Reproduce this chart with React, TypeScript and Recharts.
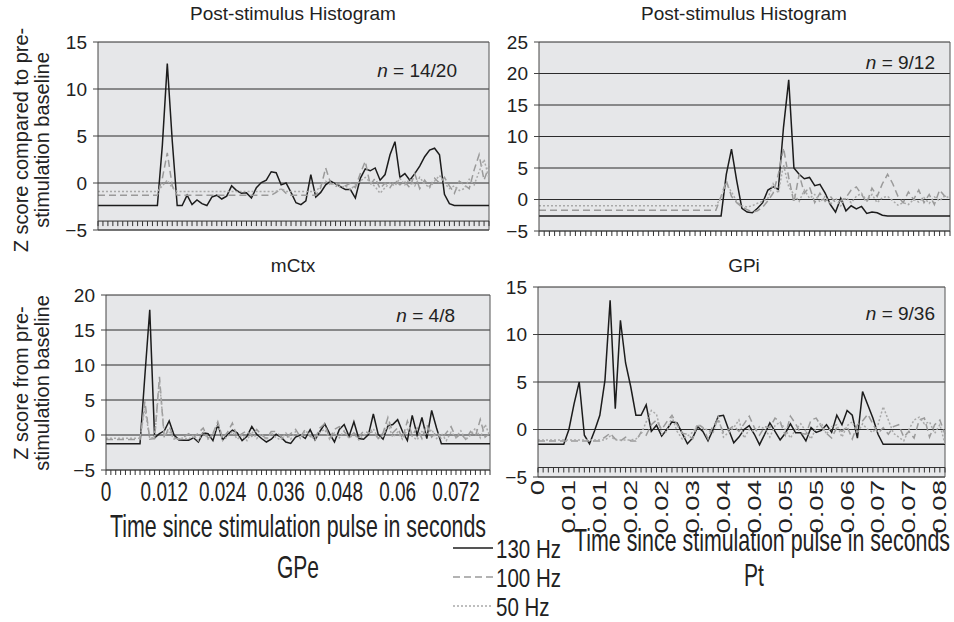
import React from 'react'
import { LineChart, Line, XAxis, YAxis, CartesianGrid, ReferenceLine } from 'recharts'

// time bins of 1 ms, 0 .. 0.079 s
const bins = Array.from({ length: 80 }, (_, i) => +(i * 0.001).toFixed(3))

const seriesNames = ['130 Hz', '100 Hz', '50 Hz']

// mCtx (top left)
const mctx130 = [
  -2.4, -2.4, -2.4, -2.4, -2.4, -2.4, -2.4, -2.4, -2.4, -2.4,
  -2.4, -2.4, -2.4, 4, 12.7, 4.5, -2.4, -2.4, -1.3, -2.3,
  -1.8, -2.2, -2.4, -1.5, -1.3, -1.7, -1.4, -0.3, -0.8, -1.1,
  -1.05, -1.6, -0.5, 0.05, 0.3, 1.2, 1.1, -0.2, 0, -1.0,
  -2.1, -2.3, -1.9, 0.9, -1.5, -1.0, -0.2, 0.2, -0.1, -0.4,
  -0.7, -0.7, -1.6, 0.5, 1.5, 1.3, 1.6, 0.3, 0.9, 3.0,
  4.4, 0.6, 1.0, 0.3, 1.0, 1.8, 2.8, 3.5, 3.7, 3.0,
  -1.2, -2.2, -2.4, -2.4, -2.4, -2.4, -2.4, -2.4, -2.4, -2.4,
]
const mctx100 = [
  -1.3, -1.3, -1.3, -1.3, -1.3, -1.3, -1.3, -1.3, -1.3, -1.3,
  -1.3, -1.3, -1.3, 0.5, 3.2, -0.3, -1.3, -1.3, -1.3, -1.3,
  -1.3, -1.3, -1.3, -1.3, -1.3, -1.3, -1.3, -1.3, -1.3, -1.3,
  -1.3, -1.3, -1.3, -1.3, -1.3, -1.3, -1.0, -0.6, -1.1, -1.3,
  -1.3, -1.3, -1.3, -1.3, -1.3, -0.5, 1.6, 0.0, -0.4, 0.0,
  -0.3, 0.0, -0.5, 1.0, 2.3, -0.2, 0.5, -0.6, 0.0, -0.5,
  0.3, -0.2, 0.1, -0.5, 1.0, -0.6, 0.3, -0.4, 0.5, 0.0,
  0.6, -0.3, -1.1, 0.2, -0.2, -0.6, 1.4, 3.0, 0.3, 1.8,
]
const mctx50 = [
  -0.9, -0.9, -0.9, -0.9, -0.9, -0.9, -0.9, -0.9, -0.9, -0.9,
  -0.9, -0.9, -0.9, -0.3, 0.3, -0.5, -0.9, -0.9, -0.9, -0.9,
  -0.9, -0.9, -0.9, -0.9, -0.9, -0.9, -0.9, -0.9, -0.9, -0.9,
  -0.9, -0.9, -0.9, -0.9, -0.9, -0.9, -0.9, -0.6, -0.9, -0.9,
  -0.9, -0.9, -0.9, -0.9, -0.9, -0.3, 0.2, -0.2, 0.0, -0.5,
  -0.3, -0.7, -0.2, 0.2, 0.6, 0.1, -0.4, -1.1, -0.5, 0.0,
  -0.3, 0.5, -0.2, 0.4, -0.3, 0.6, -0.1, -0.5, 0.2, 0.8,
  0.0, -0.6, -0.3, -0.8, -0.6, 0.4, -0.2, 1.2, 2.5, 0.5,
]

// GPi (top right)
const gpi130 = [
  -2.6, -2.6, -2.6, -2.6, -2.6, -2.6, -2.6, -2.6, -2.6, -2.6,
  -2.6, -2.6, -2.6, -2.6, -2.6, -2.6, -2.6, -2.6, -2.6, -2.6,
  -2.6, -2.6, -2.6, -2.6, -2.6, -2.6, -2.6, -2.6, -2.6, -2.6,
  -2.6, -2.6, -2.6, -2.6, -2.6, -2.6, 4.0, 8.0, 3.0, -1.4,
  -2.0, -2.1, -1.4, -0.5, 1.5, 2.0, 1.6, 11.5, 19.0, 5.0,
  4.0, 3.3, 3.5, 2.2, 2.4, 1.0, -0.8, -2.0, 0.2, -1.8,
  -1.0, -1.5, -1.1, -2.2, -2.0, -2.1, -2.5, -2.6, -2.6, -2.6,
  -2.6, -2.6, -2.6, -2.6, -2.6, -2.6, -2.6, -2.6, -2.6, -2.6,
]
const gpi100 = [
  -1.7, -1.7, -1.7, -1.7, -1.7, -1.7, -1.7, -1.7, -1.7, -1.7,
  -1.7, -1.7, -1.7, -1.7, -1.7, -1.7, -1.7, -1.7, -1.7, -1.7,
  -1.7, -1.7, -1.7, -1.7, -1.7, -1.7, -1.7, -1.7, -1.7, -1.7,
  -1.7, -1.7, -1.7, -1.7, -1.7, 0.5, 3.0, 0.5, -0.5, -1.2,
  -1.6, -2.0, -1.8, -1.2, -0.2, 1.0, 4.0, 8.2, 3.5, -0.5,
  4.0, 1.0, 2.0, -0.5, 1.0, -0.3, 0.5, -0.5, -0.2, 0.3,
  1.5, 2.0, 0.8, -0.5, 1.8, 0.5, 2.5, 4.0, 2.5, 0.5,
  -0.5, 1.2, 0.0, 1.5, -0.5, 0.8, -0.8, 1.5, 0.5, 0.8,
]
const gpi50 = [
  -1.0, -1.0, -1.0, -1.0, -1.0, -1.0, -1.0, -1.0, -1.0, -1.0,
  -1.0, -1.0, -1.0, -1.0, -1.0, -1.0, -1.0, -1.0, -1.0, -1.0,
  -1.0, -1.0, -1.0, -1.0, -1.0, -1.0, -1.0, -1.0, -1.0, -1.0,
  -1.0, -1.0, -1.0, -1.0, -1.0, 0.3, 2.5, 1.2, -0.3, -1.0,
  -1.2, -1.0, -0.6, -0.3, 0.2, 2.5, 1.0, 5.5, 2.0, 0.8,
  -0.3, 1.5, 0.2, 0.8, -0.4, 0.5, -0.8, 0.2, -1.0, 0.3,
  -0.5, 0.5, 1.0, -0.2, 0.8, -0.5, 0.3, 0.5, -0.2, -0.9,
  -0.5, -0.8, 0.0, -0.4, 0.3, -0.6, 0.4, -0.2, 0.6, 0.2,
]

// GPe (bottom left)
const gpe130 = [
  -1.25, -1.25, -1.25, -1.25, -1.25, -1.25, -1.25, -1.25, 8.5, 17.9,
  -0.4, 0.2, 0.6, 2.0, 0.0, -0.7, -0.75, -0.75, -0.4, -1.0,
  0.3, 0.2, -0.8, 1.5, -0.7, 0.05, 0.7, 0.3, -0.8, -0.2,
  1.2, 0.1, -0.5, -1.0, -0.6, 0.1, -0.3, -1.0, -1.2, -0.3,
  0.0, -0.5, 0.75, -0.7, 0.5, 1.6, 0.2, -1.0, 0.8, 1.5,
  -0.2, 1.9, -0.5, -0.6, 0.05, 3.0, 0.1, -0.6, 1.3, 1.5,
  2.2, 0.5, -0.8, 2.8, 0.0, 2.5, -0.5, 3.5, 1.0, -1.25,
  -1.25, -1.25, -1.25, -1.25, -1.25, -1.25, -1.25, -1.25, -1.25, -1.25,
]
const gpe100 = [
  -0.65, -0.65, -0.65, -0.65, -0.65, -0.65, -0.65, -0.65, 4.8, -0.6,
  -0.5, 8.3, -0.5, 1.2, -0.4, -0.6, -0.3, 0.2, -0.4, 0.3,
  1.0, -0.5, 0.2, 1.9, -0.5, 0.4, 1.7, -0.3, 0.2, 0.6,
  -0.2, 0.8, 0.0, -0.5, 0.5, 0.5, -0.3, -0.5, 0.2, 0.8,
  -0.3, 0.8, -0.2, -0.5, 1.0, 1.6, -0.5, 0.8, 1.2, 0.5,
  -0.4, 0.3, -0.3, 0.6, 0.3, 0.5, -0.5, 0.3, 2.5, 0.3,
  1.0, -0.5, 2.0, 0.0, 1.0, -0.5, 1.5, -0.3, 0.5, -0.6,
  0.3, 1.2, -0.4, 0.2, -0.6, 0.5, -0.2, 2.2, -0.3, 0.3,
]
const gpe50 = [
  -0.45, -0.45, -0.45, -0.45, -0.45, -0.45, -0.45, -0.45, 3.8, -0.5,
  -0.3, 7.6, 0.0, 0.6, -0.6, -0.5, -0.4, -0.6, 0.0, -0.8,
  0.5, -0.6, 0.0, 1.6, -0.8, -0.2, 0.5, -0.6, 0.0, -0.8,
  0.5, -0.5, 0.2, -0.7, 0.3, -0.4, -0.7, 0.3, -0.6, 0.5,
  -0.5, 0.6, 0.0, -0.7, 0.4, 0.8, -0.6, 0.3, -0.4, 0.6,
  -0.5, 0.2, -0.7, 0.0, 0.3, 0.9, -0.5, -0.2, 1.5, -0.3,
  0.4, -0.6, 0.8, -0.2, -0.7, 0.5, 0.0, 0.8, -0.5, 0.2,
  -0.8, 0.4, -0.3, 0.6, -0.7, 0.0, 1.0, -0.4, 1.5, -0.2,
]

// Pt (bottom right)
const pt130 = [
  -1.55, -1.55, -1.55, -1.55, -1.55, -1.55, 0.0, 2.7, 5.0, -0.6,
  -1.5, -0.1, 1.5, 5.2, 13.6, 2.2, 11.5, 7.0, 4.5, 1.5,
  1.5, 2.6, -0.2, 0.45, -0.7, 0.0, 0.8, 0.7, -0.4, -1.5,
  -0.9, 0.3, -0.2, -1.2, 0.0, 1.4, 1.5, 0.0, -1.4, -0.8,
  0.0, 0.4, -0.5, -1.6, -0.5, 0.7, -0.2, -1.1, -0.4, 0.6,
  -0.35, -0.35, -1.2, 0.2, -0.3, -0.1, 0.5, -0.3, 1.5, 0.5,
  2.0, 1.5, -0.9, 4.0, 2.6, 1.2, -0.5, -1.55, -1.55, -1.55,
  -1.55, -1.55, -1.55, -1.55, -1.55, -1.55, -1.55, -1.55, -1.55, -1.55,
]
const pt100 = [
  -1.2, -1.2, -1.2, -1.2, -1.2, -1.2, -1.2, -1.2, -1.2, -1.2,
  -1.2, -1.2, -1.2, -0.8, -0.4, -1.0, -1.2, -0.8, -1.2, -1.2,
  -0.3, -0.6, 0.5, 1.0, 0.0, 0.8, 1.5, 0.5, -0.4, -0.5,
  -1.0, 0.6, 0.2, -1.0, 0.5, 0.9, -0.3, 0.0, 0.4, -0.2,
  0.6, 1.4, 0.2, -0.6, 0.3, 0.2, 1.2, 0.8, -0.6, 1.4,
  0.6, -0.4, -0.5, 1.0, 1.2, 0.3, -0.4, -0.9, 0.2, -0.2,
  0.3, -1.0, 0.5, 0.9, 1.6, 0.6, -0.4, 0.2, -0.5, 0.3,
  0.5, -0.8, -0.2, -0.9, 1.0, 1.2, -0.8, 0.5, 1.0, -0.5,
]
const pt50 = [
  -1.1, -1.1, -1.1, -1.1, -1.1, -1.1, -1.1, -1.1, -1.1, -1.1,
  -1.1, -1.1, -1.1, -1.1, -0.7, -1.1, -1.1, -1.1, -1.1, -1.0,
  -0.5, 0.8, 2.0, 1.6, -0.5, -0.2, 1.3, -0.2, -1.0, -0.7,
  -0.3, 0.5, 0.2, -0.1, -0.3, 1.3, -0.8, -0.3, 0.2, 1.0,
  -0.9, 0.0, -0.2, 0.3, 0.1, -0.8, 0.4, 0.8, 0.0, -0.9,
  0.0, 0.6, -0.2, -1.0, 0.2, 0.7, -0.5, 0.3, 0.5, -0.8,
  0.4, 0.8, -0.4, 0.6, 0.0, -0.3, 0.5, 2.4, 1.0, -0.4,
  -0.8, -1.2, 0.0, 1.0, 1.3, 0.6, 0.8, -0.4, 0.5, -1.5,
]

const lineStyles = [
  { stroke: '#1c1c1c', dash: undefined, width: 1.5 },
  { stroke: '#9a9a9a', dash: '7 4', width: 1.5 },
  { stroke: '#a9a9a9', dash: '2 2', width: 1.5 },
]

const FONT = '"Liberation Sans", Arial, Helvetica, sans-serif'
const YW = 60
const MT = 12
const MR = 6

type PanelDef = {
  left: number
  top: number
  right: number
  bottom: number
  yMin: number
  yMax: number
  yTicks: number[]
  axisAt?: number
  labels: 'none' | 'flat' | 'rotated'
  xh: number
  series: number[][]
}

const panels: PanelDef[] = [
  { left: 98, top: 42, right: 489, bottom: 230, yMin: -5, yMax: 15, yTicks: [-5, 0, 5, 10, 15], axisAt: -4.05, labels: 'none', xh: 10, series: [mctx130, mctx100, mctx50] },
  { left: 539, top: 42, right: 950, bottom: 231, yMin: -5, yMax: 25, yTicks: [-5, 0, 5, 10, 15, 20, 25], labels: 'none', xh: 10, series: [gpi130, gpi100, gpi50] },
  { left: 106, top: 295, right: 490, bottom: 470, yMin: -5, yMax: 20, yTicks: [-5, 0, 5, 10, 15, 20], labels: 'flat', xh: 45, series: [gpe130, gpe100, gpe50] },
  { left: 538, top: 287, right: 945, bottom: 477, yMin: -5, yMax: 15, yTicks: [-5, 0, 5, 10, 15], axisAt: -4.0, labels: 'rotated', xh: 60, series: [pt130, pt100, pt50] },
]

const fmtY = (v: number) => (v < 0 ? '\u2212' + Math.abs(v) : String(v))
const fmtRot = (v: number) => (v === 0 ? '0' : v.toFixed(2))

const BinTick = (props: any) => {
  const { x, y, payload, inset, labels } = props
  const idx = Math.round(payload.value / 0.001)
  const y0 = y - inset
  let label = null
  if (labels === 'flat' && idx % 12 === 0) {
    label = (
      <text transform={`translate(${x} ${y + 22}) scale(1 1.45)`} textAnchor="middle" dominantBaseline="central" fontSize={19} fill="#222">
        {String(payload.value)}
      </text>
    )
  }
  if (labels === 'rotated' && idx % 6 === 0) {
    label = (
      <text transform={`translate(${x} ${y + 3}) rotate(-90) scale(1.45 1)`} textAnchor="end" dominantBaseline="central" fontSize={19} fill="#222">
        {fmtRot(payload.value)}
      </text>
    )
  }
  return (
    <g>
      <line x1={x} x2={x} y1={y0} y2={y0 + 5} stroke="#333" strokeWidth={1} />
      {label}
    </g>
  )
}

const Panel = ({ p }: { p: PanelDef }) => {
  const rows = bins.map((t, i) => ({ t, a: p.series[0][i], b: p.series[1][i], c: p.series[2][i] }))
  const plotH = p.bottom - p.top
  const inset = p.axisAt !== undefined ? ((p.axisAt - p.yMin) / (p.yMax - p.yMin)) * plotH : 0
  const W = p.right - p.left + YW + MR
  const H = MT + plotH + p.xh
  return (
    <div style={{ position: 'absolute', left: p.left - YW, top: p.top - MT }}>
      <LineChart width={W} height={H} data={rows} margin={{ top: MT, right: MR, bottom: 0, left: 0 }}>
        <CartesianGrid vertical={false} fill="#e6e7e9" stroke="#2b2b2b" />
        <XAxis
          dataKey="t"
          type="number"
          domain={[0, 0.079]}
          ticks={bins}
          interval={0}
          height={p.xh}
          tickLine={false}
          tickSize={0}
          tickMargin={0}
          axisLine={{ stroke: '#555' }}
          tick={(tp: any) => <BinTick {...tp} inset={inset} labels={p.labels} />}
        />
        <YAxis
          type="number"
          domain={[p.yMin, p.yMax]}
          ticks={p.yTicks}
          interval={0}
          width={YW}
          tickSize={5}
          tickMargin={6}
          tick={{ fontSize: 19, fill: '#222' }}
          tickFormatter={fmtY}
          axisLine={{ stroke: '#444' }}
          tickLine={{ stroke: '#444' }}
        />
        <ReferenceLine x={0.079} stroke="#555" />
        {p.axisAt !== undefined && <ReferenceLine y={p.axisAt} stroke="#333" />}
        {['a', 'b', 'c'].map((k, i) => (
          <Line
            key={k}
            dataKey={k}
            name={seriesNames[i]}
            type="linear"
            stroke={lineStyles[i].stroke}
            strokeDasharray={lineStyles[i].dash}
            strokeWidth={lineStyles[i].width}
            dot={false}
            isAnimationActive={false}
          />
        ))}
      </LineChart>
    </div>
  )
}

const Stretch = ({ x, y, size, k = 1.45, anchor = 'middle', children }: any) => (
  <text transform={`translate(${x} ${y}) scale(1 ${k})`} textAnchor={anchor} dominantBaseline="central" fontSize={size} fill="#222">
    {children}
  </text>
)

const NLabel = ({ x, y, text }: { x: number; y: number; text: string }) => (
  <text x={x} y={y} textAnchor="end" fontSize={19} fill="#222">
    <tspan fontStyle="italic">n</tspan> = {text}
  </text>
)

const App = () => (
  <div style={{ position: 'absolute', left: 0, top: 0, width: 954, height: 622, background: '#fff', fontFamily: FONT }}>
    {panels.map((p, i) => (
      <Panel key={i} p={p} />
    ))}
    <svg width={954} height={622} style={{ position: 'absolute', left: 0, top: 0, pointerEvents: 'none' }} fontFamily={FONT}>
      <text x={293} y={20} textAnchor="middle" fontSize={19} fill="#222">Post-stimulus Histogram</text>
      <text x={744} y={20} textAnchor="middle" fontSize={19} fill="#222">Post-stimulus Histogram</text>
      <text x={293} y={272} textAnchor="middle" fontSize={19} fill="#222">mCtx</text>
      <text x={744} y={272} textAnchor="middle" fontSize={19} fill="#222">GPi</text>

      <g transform="translate(21 140) rotate(-90)">
        <text textAnchor="middle" dominantBaseline="central" fontSize={20} fill="#222">Z score compared to pre-</text>
      </g>
      <g transform="translate(42 140) rotate(-90)">
        <text textAnchor="middle" dominantBaseline="central" fontSize={20} fill="#222">stimulation baseline</text>
      </g>
      <g transform="translate(21 383) rotate(-90)">
        <text textAnchor="middle" dominantBaseline="central" fontSize={20} fill="#222">Z score from pre-</text>
      </g>
      <g transform="translate(42 383) rotate(-90)">
        <text textAnchor="middle" dominantBaseline="central" fontSize={20} fill="#222">stimulation baseline</text>
      </g>

      <NLabel x={457} y={77} text="14/20" />
      <NLabel x={935} y={69} text="9/12" />
      <NLabel x={455} y={322} text="4/8" />
      <NLabel x={935} y={320} text="9/36" />

      <Stretch x={298} y={527} size={21.4}>Time since stimulation pulse in seconds</Stretch>
      <Stretch x={762} y={541} size={21.4}>Time since stimulation pulse in seconds</Stretch>
      <Stretch x={298} y={568} size={21}>GPe</Stretch>
      <Stretch x={754} y={576} size={21}>Pt</Stretch>

      {seriesNames.map((name, i) => {
        const ly = [548, 577, 606][i]
        return (
          <g key={name}>
            <line x1={453} x2={493} y1={ly} y2={ly} stroke={lineStyles[i].stroke} strokeDasharray={lineStyles[i].dash} strokeWidth={lineStyles[i].width} />
            <Stretch x={496} y={ly} size={20.5} k={1.3} anchor="start">{name}</Stretch>
          </g>
        )
      })}
    </svg>
  </div>
)

export default App
